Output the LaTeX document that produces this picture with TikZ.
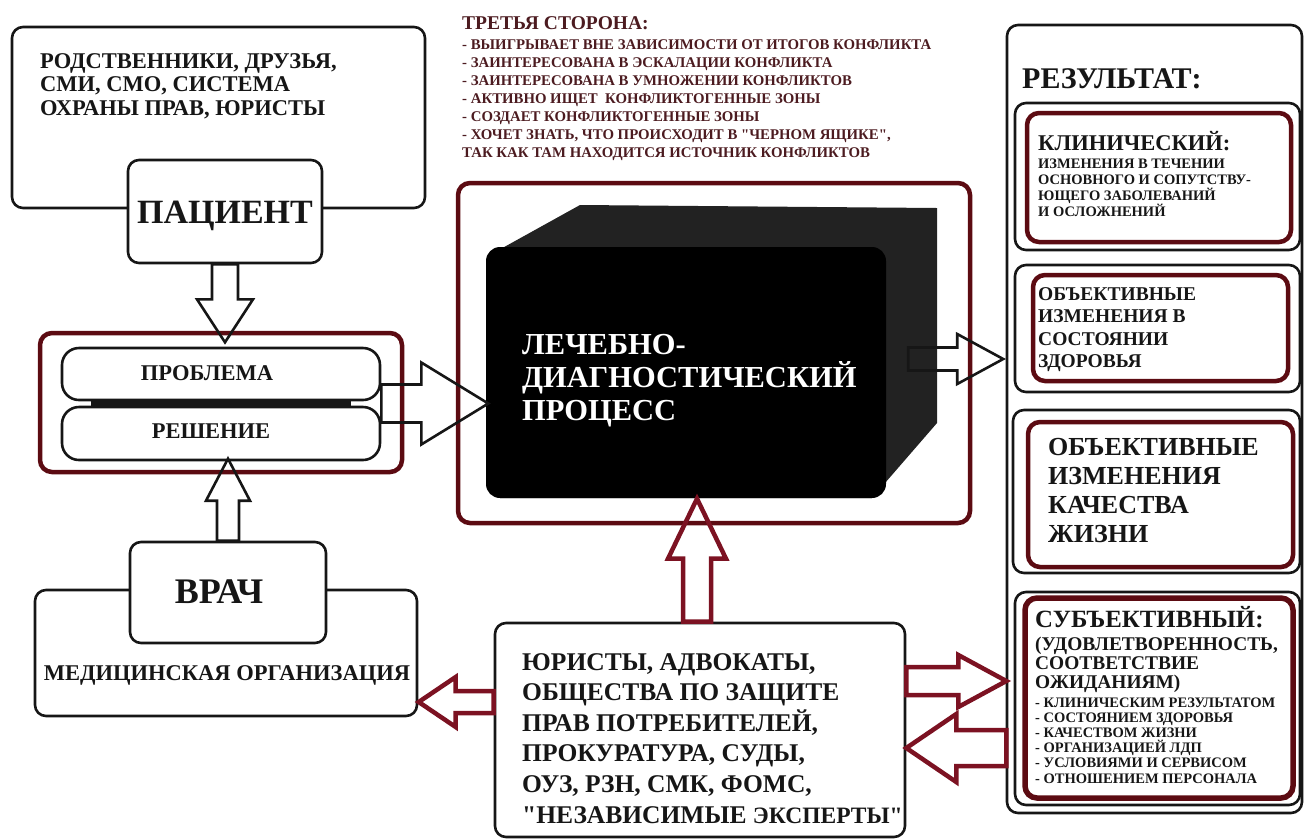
\documentclass[tikz,border=0pt]{standalone}
\usepackage{fontspec}
\setmainfont{Liberation Serif}[Ligatures=TeXOff]
\usetikzlibrary{positioning,fit,calc}

\definecolor{maroon}{HTML}{5C0B12}
\definecolor{arrowred}{HTML}{7C1222}
\definecolor{thirdred}{HTML}{4C1B20}
\definecolor{inkgray}{HTML}{161616}
\definecolor{sidegray}{HTML}{222222}

\tikzset{
  box/.style={draw=inkgray, line width=2.6pt, rounded corners=11pt, inner sep=0pt},
  redbox/.style={draw=maroon, line width=4.5pt, rounded corners=12pt, inner sep=0pt},
  hollow/.style={draw=inkgray, line width=2.6pt, line join=miter},
  redhollow/.style={draw=arrowred, line width=4.5pt, line join=miter},
  txt/.style={font=\fontsize{#1}{#1}\selectfont\bfseries, text=inkgray, inner sep=0pt, anchor=base west},
  ctxt/.style={txt=#1, anchor=base}
}

\begin{document}
\begin{tikzpicture}[x=1pt, y=-1pt]
\useasboundingbox (0,0) rectangle (1305,839);

% third party
\node[txt=19.5, text=thirdred] (tp) at (462,29) {ТРЕТЬЯ СТОРОНА:};
\foreach \t [count=\i] in {- ВЫИГРЫВАЕТ ВНЕ ЗАВИСИМОСТИ ОТ ИТОГОВ КОНФЛИКТА,
  - ЗАИНТЕРЕСОВАНА В ЭСКАЛАЦИИ КОНФЛИКТА,
  - ЗАИНТЕРЕСОВАНА В УМНОЖЕНИИ КОНФЛИКТОВ,
  - АКТИВНО ИЩЕТ\ \ КОНФЛИКТОГЕННЫЕ ЗОНЫ,
  - СОЗДАЕТ КОНФЛИКТОГЕННЫЕ ЗОНЫ,
  {- ХОЧЕТ ЗНАТЬ, ЧТО ПРОИСХОДИТ В "ЧЕРНОМ ЯЩИКЕ",},
  ТАК КАК ТАМ НАХОДИТСЯ ИСТОЧНИК КОНФЛИКТОВ}
  \node[txt=14.8, text=thirdred] (tp\i) at (462,31+18*\i) {\t};

% patient
\node[box, fit={(12,27) (425,208)}] (env) {};
\foreach \t [count=\i from 0] in {{РОДСТВЕННИКИ, ДРУЗЬЯ,}, {СМИ, СМО, СИСТЕМА}, {ОХРАНЫ ПРАВ, ЮРИСТЫ}}
  \node[txt=22.5] (env\i) at (40,68+23.5*\i) {\t};
\node[box, fill=white, fit={(128,160) (322,263)}] (pac) {};
\node[ctxt=34] (pactxt) at (225,223) {ПАЦИЕНТ};

% problem / decision
\node[redbox, fit={(40,333) (402,472)}] (pr) {};
\node[box, rounded corners=17pt, fit={(62,348) (380,400)}] (prob) {};
\node[box, rounded corners=17pt, fit={(62,407) (380,460)}] (resh) {};
\draw[line width=7pt, inkgray] ([xshift=30pt, yshift=-3.5pt]prob.south west) -- ([xshift=-30pt, yshift=-3.5pt]prob.south east);
\node[ctxt=22.5] (probtxt) at (207,380) {ПРОБЛЕМА};
\node[ctxt=22.5] (reshtxt) at (211,438) {РЕШЕНИЕ};

% doctor
\node[box, fit={(35,590) (417,716)}] (mo) {};
\node[box, fill=white, fit={(130,542) (326,643)}] (vrach) {};
\node[ctxt=36] (vrachtxt) at (219,603) {ВРАЧ};
\node[ctxt=22.5] (motxt) at (227,680) {МЕДИЦИНСКАЯ ОРГАНИЗАЦИЯ};

% black box
\node[redbox, fit={(458,183) (970,523)}] (frame) {};
\fill[sidegray] (488,256) -- (580,205) -- (937,208) -- (937,423) -- (872,498) -- (500,498) -- cycle;
\node[fill=black, rounded corners=14pt, inner sep=0pt, fit={(486,247) (886,498)}] (ldp) {};
\foreach \t [count=\i from 0] in {ЛЕЧЕБНО-, ДИАГНОСТИЧЕСКИЙ, ПРОЦЕСС}
  \node[txt=30.5, text=white] (ldp\i) at (522,354+33*\i) {\t};

% lawyers
\node[box, fit={(495,623) (905,837)}] (law) {};
\foreach \t [count=\i from 0] in {{ЮРИСТЫ, АДВОКАТЫ,}, ОБЩЕСТВА ПО ЗАЩИТЕ, {ПРАВ ПОТРЕБИТЕЛЕЙ,},
  {ПРОКУРАТУРА, СУДЫ,}, {ОУЗ, РЗН, СМК, ФОМС,}, {"НЕЗАВИСИМЫЕ {\fontsize{23.5}{23.5}\selectfont ЭКСПЕРТЫ"}}}
  \node[txt=25.5] (law\i) at (522,670+30.6*\i) {\t};

% result
\node[box, fit={(1007,25) (1302,813)}] (res) {};
\node[txt=30] (restxt) at (1022,88) {РЕЗУЛЬТАТ:};

\node[box, fit={(1015,103) (1300,250)}] (clin) {};
\node[redbox, fit={(1027,113) (1291,242)}] (clinin) {};
\node[txt=22.5] (clintxt) at (1038,150) {КЛИНИЧЕСКИЙ:};
\foreach \t [count=\i from 0] in {ИЗМЕНЕНИЯ В ТЕЧЕНИИ, ОСНОВНОГО И СОПУТСТВУ-, ЮЩЕГО ЗАБОЛЕВАНИЙ, И ОСЛОЖНЕНИЙ}
  \node[txt=14.5] (clin\i) at (1038,168+16.3*\i) {\t};

\node[box, fit={(1015,265) (1300,392)}] (health) {};
\node[redbox, fit={(1033,275) (1288,381)}] (healthin) {};
\foreach \t [count=\i from 0] in {ОБЪЕКТИВНЫЕ, ИЗМЕНЕНИЯ В, СОСТОЯНИИ, ЗДОРОВЬЯ}
  \node[txt=19.5] (health\i) at (1038,300+22.5*\i) {\t};

\node[box, fit={(1013,410) (1300,573)}] (qual) {};
\node[redbox, fit={(1028,422) (1293,567)}] (qualin) {};
\foreach \t [count=\i from 0] in {ОБЪЕКТИВНЫЕ, ИЗМЕНЕНИЯ, КАЧЕСТВА, ЖИЗНИ}
  \node[txt=26] (qual\i) at (1048,455+29*\i) {\t};

\node[box, fit={(1015,592) (1300,805)}] (subj) {};
\node[redbox, line width=5.5pt, fit={(1025,598) (1293,798)}] (subjin) {};
\node[txt=24.8] (subjtxt) at (1035,627) {СУБЪЕКТИВНЫЙ:};
\foreach \t [count=\i from 0] in {{(УДОВЛЕТВОРЕННОСТЬ,}, СООТВЕТСТВИЕ, ОЖИДАНИЯМ)}
  \node[txt=19.4] (subja\i) at (1035,650+19*\i) {\t};
\foreach \t [count=\i from 0] in {- КЛИНИЧЕСКИМ РЕЗУЛЬТАТОМ, - СОСТОЯНИЕМ ЗДОРОВЬЯ, - КАЧЕСТВОМ ЖИЗНИ,
  - ОРГАНИЗАЦИЕЙ ЛДП, - УСЛОВИЯМИ И СЕРВИСОМ, - ОТНОШЕНИЕМ ПЕРСОНАЛА}
  \node[txt=14.5] (subjb\i) at (1035,707+15.2*\i) {\t};

% block arrows
\draw[hollow] (pac.south) ++(-13,0) -- ++(0,35) -- ++(-15,0) -- ++(28,43) -- ++(28,-43) -- ++(-15,0) -- ++(0,-35) -- cycle;
\draw[hollow] (vrach.north) ++(-11,0) -- ++(0,-40) -- ++(-11,0) -- ++(22,-42) -- ++(22,42) -- ++(-11,0) -- ++(0,40) -- cycle;
\draw[hollow] ($(prob.south east)!0.5!(resh.north east)$) ++(0,-19) -- ++(40,0) -- ++(0,-22) -- ++(67,41) -- ++(-67,41) -- ++(0,-22) -- ++(-40,0) -- cycle;
\draw[hollow] (ldp.east) ++(22,-25) -- ++(49,0) -- ++(0,-13.5) -- ++(46,25) -- ++(-46,25) -- ++(0,-13.5) -- ++(-49,0) -- cycle;

\draw[redhollow] (law.north) ++(-17,0) -- ++(0,-63) -- ++(-15,0) -- ++(29,-60) -- ++(29,60) -- ++(-15,0) -- ++(0,63) -- cycle;
\draw[redhollow] (law.west) ++(0,-39) -- ++(-38,0) -- ++(0,-14) -- ++(-37,25) -- ++(37,25) -- ++(0,-14) -- ++(38,0) -- cycle;
\draw[redhollow] (law.east) ++(0,-63) -- ++(52,0) -- ++(0,-12) -- ++(48,26) -- ++(-48,26) -- ++(0,-12) -- ++(-52,0) -- cycle;
\draw[redhollow] (law.east) ++(0,18) -- ++(50,-34) -- ++(0,16) -- ++(50,0) -- ++(0,36) -- ++(-50,0) -- ++(0,16) -- cycle;
\end{tikzpicture}
\end{document}
